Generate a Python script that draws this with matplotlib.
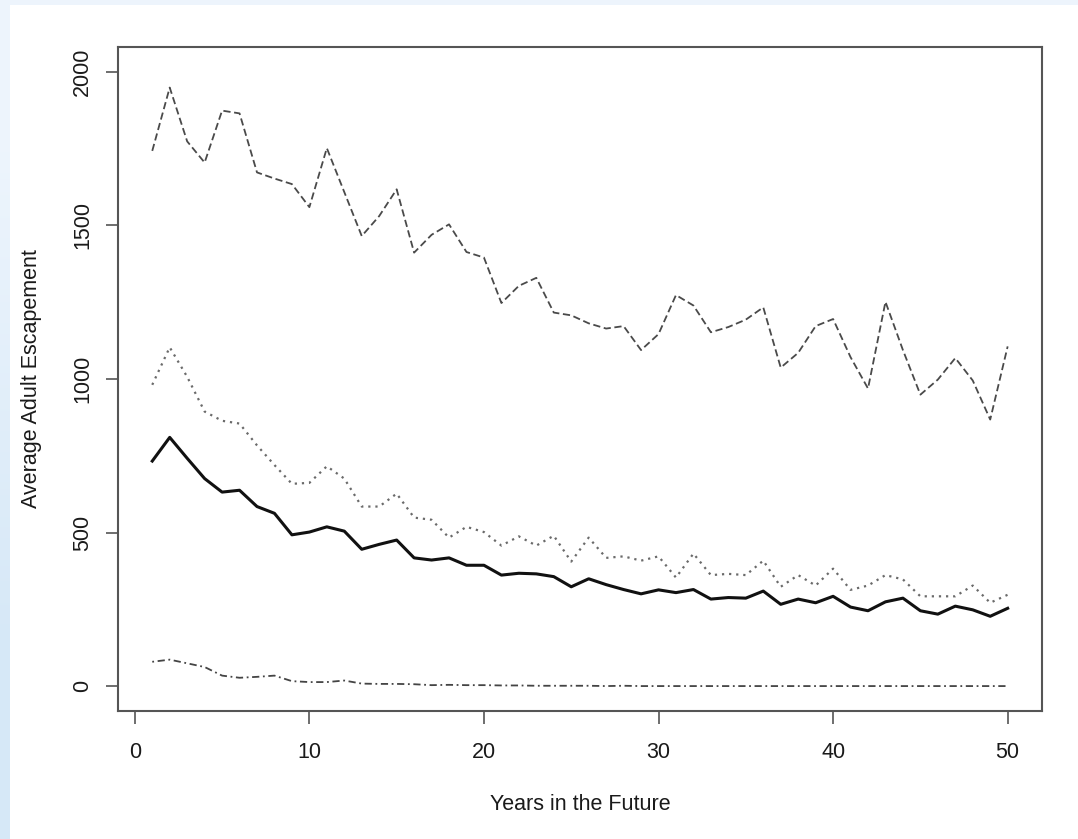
import matplotlib.pyplot as plt
import numpy as np

plt.rcParams['font.family'] = ['Liberation Sans', 'DejaVu Sans']

years = list(range(1, 51))

# top dashed series
high = [1742, 1948, 1773, 1704, 1873, 1864, 1672, 1652, 1634, 1559,
        1751, 1608, 1465, 1530, 1617, 1411, 1469, 1503, 1413, 1395,
        1247, 1303, 1329, 1216, 1207, 1181, 1164, 1172, 1094, 1146,
        1273, 1239, 1152, 1169, 1193, 1233, 1037, 1085, 1172, 1195,
        1071, 969, 1251, 1094, 949, 998, 1068, 995, 868, 1106]

# dotted series
mid_high = [981, 1103, 1007, 894, 864, 855, 784, 720, 659, 662,
            716, 676, 585, 585, 627, 549, 542, 484, 519, 502,
            458, 488, 458, 490, 406, 484, 418, 423, 409, 423,
            354, 432, 362, 366, 362, 409, 324, 362, 328, 383,
            314, 328, 362, 348, 293, 293, 293, 328, 272, 298]

# solid series
base = [733, 810, 742, 676, 632, 638, 585, 563, 493, 502,
        519, 505, 446, 462, 476, 418, 411, 418, 394, 394,
        362, 368, 366, 357, 324, 350, 331, 315, 301, 314,
        305, 315, 284, 289, 287, 310, 267, 284, 272, 293,
        258, 246, 275, 287, 246, 235, 261, 249, 228, 254]

# bottom dot-dash series
low = [80, 87, 75, 63, 35, 28, 31, 35, 17, 14,
       14, 19, 9, 8, 8, 7, 4, 5, 4, 4,
       3, 3, 2, 2, 2, 2, 1, 2, 1, 1,
       1, 1, 1, 1, 1, 1, 1, 1, 1, 1,
       1, 1, 1, 1, 1, 1, 1, 1, 1, 1]

fig = plt.figure(figsize=(10.78, 8.39), dpi=100)

# pale blue slide frame behind the plot
bg = fig.add_axes([0, 0, 1, 1], zorder=-10)
h, w = 839, 1078
img = np.ones((h, w, 3))
frac = np.clip(np.linspace(-0.3, 1.4, h), 0, 1)[:, None]
top_c = np.array([0.93, 0.96, 0.99])
side_c = np.array([0.84, 0.91, 0.97])
img[:, :10, :] = (top_c * (1 - frac) + side_c * frac)[:, None, :]
img[:5, :, :] = top_c
bg.imshow(img, aspect='auto', extent=(0, 1, 0, 1))
bg.axis('off')

ax = fig.add_axes([0.1095, 0.1526, 0.857, 0.7914])
ax.plot(years, high, color='#4a4a4a', lw=1.3, dashes=(4, 2))
ax.plot(years, mid_high, color='#6a6a6a', lw=1.6, dashes=(1, 2.2))
ax.plot(years, base, color='#111111', lw=2.2)
ax.plot(years, low, color='#444444', lw=1.3, dashes=(1, 2, 4, 2))

ax.set_xlim(-0.96, 51.96)
ax.set_ylim(-80, 2080)
ax.set_xticks([0, 10, 20, 30, 40, 50])
ax.set_yticks([0, 500, 1000, 1500, 2000])

for s in ax.spines.values():
    s.set_color('#555555')
    s.set_linewidth(1.5)

ax.tick_params(axis='both', length=9, width=1.2, color='#555555',
               labelsize=15.5, labelcolor='#1a1a1a')
ax.tick_params(axis='x', pad=13)
ax.tick_params(axis='y', pad=9, labelrotation=90)
for lab in ax.get_yticklabels():
    lab.set_va('center')

ax.set_xlabel('Years in the Future', fontsize=15.5, color='#1a1a1a')
ax.set_ylabel('Average Adult Escapement', fontsize=15.5, color='#1a1a1a')
ax.xaxis.set_label_coords(0.5, -0.1416)
ax.xaxis.label.set_va('center')
ax.yaxis.set_label_coords(-0.0935, 0.5)
ax.yaxis.label.set_va('center')

fig.savefig('out.png', dpi=100)
